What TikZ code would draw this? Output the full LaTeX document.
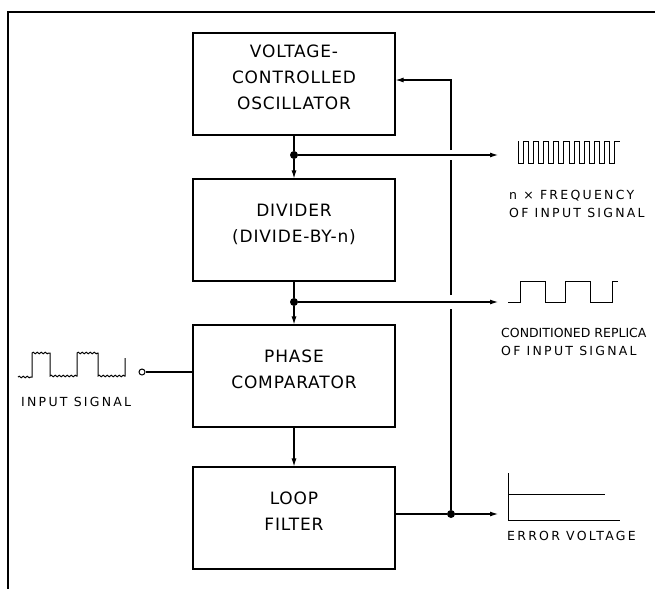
\documentclass[tikz,border=0pt]{standalone}
\usepackage{fontspec}
\usetikzlibrary{arrows.meta,decorations.pathmorphing}
\newfontfamily\blkfont[LetterSpace=5]{DejaVu Sans}
\newfontfamily\lblfont[LetterSpace=18]{DejaVu Sans}

\tikzset{
  blk/.style={draw,line width=1.1pt,minimum width=202pt,minimum height=102pt,
    align=center,text depth=14pt,font=\blkfont\fontsize{17}{26}\selectfont},
  lbl/.style={anchor=west,align=left,inner sep=1pt,font=\lblfont\fontsize{12.5}{18}\selectfont},
  wire/.style={line width=1.1pt},
  arr/.style={wire,-{Latex[length=8pt,width=5pt]}},
  wave/.style={line width=1pt},
  noisy/.style={decoration={snake,amplitude=.8pt,segment length=4pt}},
  dot/.style={circle,fill,inner sep=0pt,minimum size=8pt}
}

\begin{document}
\begin{tikzpicture}[x=1pt,y=-1pt]
  \useasboundingbox (0,0) rectangle (655,589);
  \draw[line width=1.5pt] (655,12) -- (8,12) -- (8,589);

  \node[blk] (vco) at (294,84) {VOLTAGE-\\CONTROLLED\\OSCILLATOR};
  \node[blk] (div) at (294,230) {DIVIDER\\(DIVIDE-BY-n)};
  \node[blk] (pc) at (294,376) {PHASE\\COMPARATOR};
  \node[blk] (lf) at (294,518) {LOOP\\FILTER};

  \node[dot] (j1) at (294,155) {};
  \node[dot] (j2) at (294,302) {};
  \node[dot] (j3) at (451,514) {};
  \coordinate (fbtop) at (451,80);
  \coordinate (fastend) at (498,155);
  \coordinate (replend) at (498,302);
  \coordinate (errend) at (498,514);

  \draw[wire] (vco.south) -- (j1);
  \draw[arr] (j1) -- (div.north);
  \draw[arr] (j1) -- (fastend);
  \draw[wire] (div.south) -- (j2);
  \draw[arr] (j2) -- (pc.north);
  \draw[arr] (j2) -- (replend);
  \draw[arr] (pc.south) -- (lf.north);
  \draw[wire] (lf.east |- j3) -- (j3);
  \draw[arr] (j3) -- (errend);
  \draw[wire] (j3) -- ([yshift=-7pt]j3 |- j2);
  \draw[wire] ([yshift=7pt]j3 |- j2) -- ([yshift=-5pt]j3 |- j1);
  \draw[arr] ([yshift=5pt]j3 |- j1) -- (fbtop) -- (vco.east |- fbtop);

  \node[circle,draw,line width=1pt,minimum size=6pt,inner sep=0pt] (inp) at (142,372) {};
  \draw[wire] (inp) -- (pc.west |- inp);
  \draw[wave] (18,377) decorate[noisy]{-- (32,377)} -- (32,353)
    decorate[noisy]{-- (50,353)} -- (50,376) decorate[noisy]{-- (77,376)}
    -- (77,353) decorate[noisy]{-- (98,353)} -- (98,376)
    decorate[noisy]{-- (125,376)} -- (125,358);

  \draw[wave] (518,141) \foreach \i in {1,...,10}{-- ++(0,22) -- ++(5.1,0) -- ++(0,-22) -- ++(5.1,0)};
  \draw[wave] (508,302) -- (520,302) -- (520,281) -- (545,281) -- (545,302) -- (565,302)
    -- (565,281) -- (590,281) -- (590,302) -- (612,302) -- (612,281) -- (618,281);
  \draw[wave] (508,473) -- (508,520) -- (620,520);
  \draw[wave] (508,494) -- (605,494);

  \node[lbl] (fastlbl) at (508,204) {n × FREQUENCY\\OF INPUT SIGNAL};
  \node[lbl] (repllbl) at (500,342) {{\addfontfeature{LetterSpace=0}CONDITIONED REPLICA}\\OF INPUT SIGNAL};
  \node[lbl] (inplbl) at (20,402) {INPUT SIGNAL};
  \node[lbl] (errlbl) at (506,536) {ERROR VOLTAGE};
\end{tikzpicture}
\end{document}
